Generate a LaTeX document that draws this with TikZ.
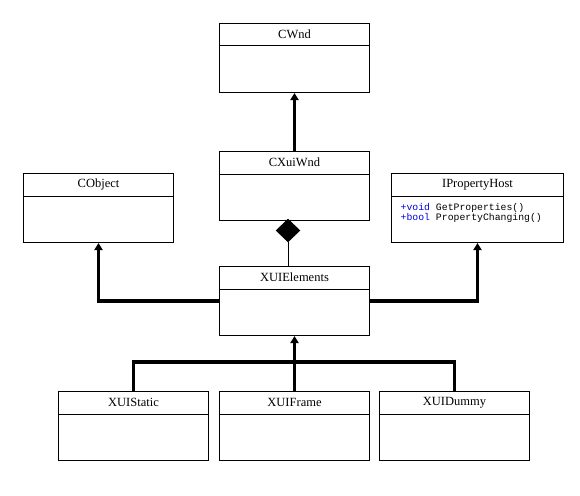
\documentclass[tikz,border=0pt]{standalone}
\usepackage{fontspec}
\setmainfont{Liberation Serif}
\setmonofont{Liberation Mono}
\usetikzlibrary{arrows.meta,shapes.geometric}
\definecolor{kwblue}{RGB}{0,0,230}
\tikzset{
  classbox/.style={draw, line width=1pt, rectangle, minimum height=69pt, inner sep=0pt, anchor=north west},
  titletext/.style={font=\fontsize{12.5}{14}\selectfont, inner sep=0pt},
  membertext/.style={font=\ttfamily\fontsize{9.8}{10.6}\selectfont, inner sep=0pt, align=left, anchor=north west},
  inh/.style={line width=3.2pt, -{Triangle[width=8pt,length=7pt]}},
  conn/.style={line width=3.2pt},
  thinconn/.style={line width=1pt},
  compo/.style={diamond, fill=black, draw=black, line width=0.5pt, minimum width=24pt, minimum height=23pt, inner sep=0pt}
}
\newcommand{\umlclass}[6]{%
  \node[classbox, minimum width=#4] (#1) at (#2,#3) {};
  \node[titletext] (#1-t) at ([yshift=-11.5pt]#1.north) {#5};
  \draw[line width=1pt] ([yshift=-23pt]#1.north west) -- ([yshift=-23pt]#1.north east);
}
\begin{document}
\begin{tikzpicture}[x=1pt,y=-1pt]
\useasboundingbox[fill=white] (0,0) rectangle (580,495);
\umlclass{cwnd}{219}{23}{150}{CWnd}{}
\umlclass{cxui}{219}{151}{150}{CXuiWnd}{}
\umlclass{cobj}{23}{173}{150}{CObject}{}
\umlclass{iph}{391}{173}{172}{IPropertyHost}{}
\umlclass{xuie}{219}{266}{150}{XUIElements}{}
\umlclass{xstatic}{58}{391}{150}{XUIStatic}{}
\umlclass{xframe}{219}{391}{150}{XUIFrame}{}
\umlclass{xdummy}{379}{391}{150}{XUIDummy}{}
\node[membertext] (iph-m) at (400.5,203) {\textcolor{kwblue}{+void} GetProperties()\\\textcolor{kwblue}{+bool} PropertyChanging()};
% inheritance
\draw[inh] (cxui.north) -- (cwnd.south);
\draw[inh] (xuie.west) -| (cobj.south);
\draw[inh] (xuie.east) -| (iph.south);
\coordinate (bus) at (293,362);
\draw[conn] (xstatic.north) |- (bus) -| (xdummy.north);
\draw[inh] (xframe.north) -- (xuie.south);
% composition
\node[compo] (dia) at (288,230.5) {};
\draw[thinconn] (dia.south) -- (dia.south |- xuie.north);
\end{tikzpicture}
\end{document}
